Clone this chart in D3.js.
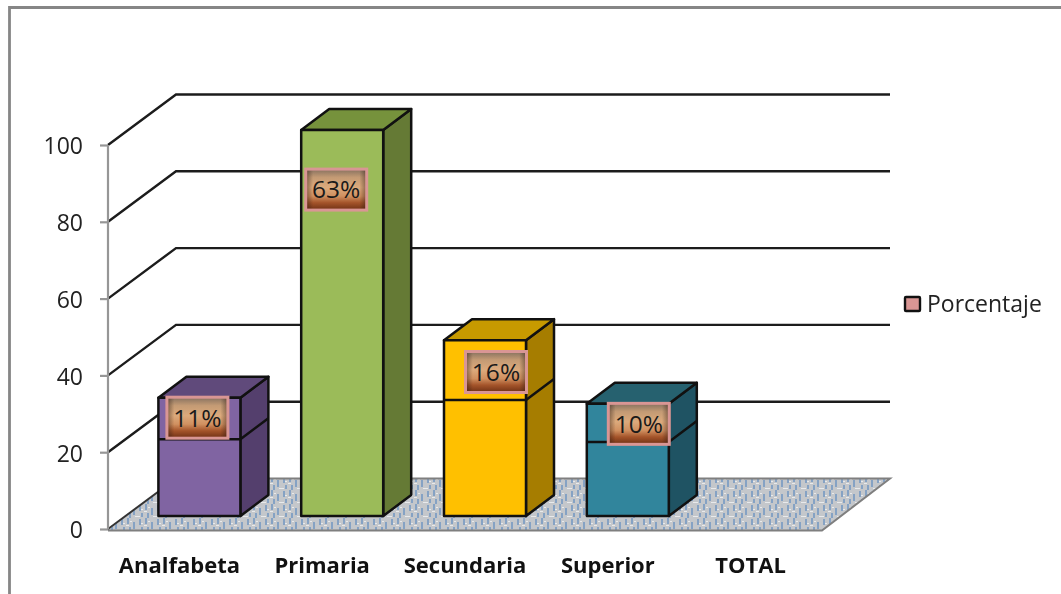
<!DOCTYPE html>
<html><head><meta charset="utf-8">
<script src="https://cdnjs.cloudflare.com/ajax/libs/d3/7.8.5/d3.min.js"></script>
<style>html,body{margin:0;padding:0;background:#fff;overflow:hidden}svg{display:block;filter:blur(.4px)}</style>
</head><body><svg id="c" width="1061" height="594"></svg>
<script>
const categories = ["Analfabeta","Primaria","Secundaria","Superior","TOTAL"];
const barValues = [30.8,100.5,45.8,29.2,null];
const seamValues = [20,null,30.2,19.3,null];
const percentLabels = ["11%","63%","16%","10%",null];
const labelValues = [25.6,85,37.5,24,null];
const yTicks = [0,20,40,60,80,100];
const legendLabel = "Porcentaje";
const frontColors = ["#8064a2","#9bbb59","#ffc000","#31859c"];
const topColors = ["#604a7b","#76923c","#c79a00","#26616f"];
const sideColors = ["#543f6d","#657a35","#a67d00","#1f5363"];
const labelShift = [-2,-6,11,11];

const W = {dx:68, dy:-50.5}, D = {dx:28, dy:-21};
const svg = d3.select("#c");
const y = d3.scaleLinear().domain([0,100]).range([529,145]);
const x = d3.scaleBand().domain(categories).range([108,822]);
const barBase = 13, barW = 82, barOff = (x.bandwidth()-barW)/2 + 20;
const yb = v => y(v) - barBase;
const defs = svg.append("defs");

// floor texture
const pat = defs.append("pattern").attr("id","floorTex").attr("patternUnits","userSpaceOnUse")
  .attr("width",18).attr("height",14);
pat.append("rect").attr("width",18).attr("height",14).attr("fill","#c4c7cb");
[[1,0,2,6],[7,4,2,7],[13,1,2,6],[3,9,2,5],[15,9,2,4]].forEach(r=>
  pat.append("rect").attr("x",r[0]).attr("y",r[1]).attr("width",r[2]).attr("height",r[3]).attr("fill","#7f9ec4").attr("opacity",.9));
[[9,12,5,1],[0,7,3,1],[4,3,2,1],[15,5,2,1]].forEach(r=>
  pat.append("rect").attr("x",r[0]).attr("y",r[1]).attr("width",r[2]).attr("height",r[3]).attr("fill","#e8eaec"));

// label fill
const lg = defs.append("linearGradient").attr("id","lblV").attr("x1",0).attr("x2",0).attr("y1",0).attr("y2",1);
[[0,"#85705f"],[.2,"#c39a74"],[.45,"#dcaa7c"],[.66,"#d09060"],[.82,"#a4542a"],[1,"#6e3014"]].forEach(s=>
  lg.append("stop").attr("offset",s[0]).attr("stop-color",s[1]));
const lh = defs.append("linearGradient").attr("id","lblH");
[[0,.5],[.12,0],[.88,0],[1,.5]].forEach(s=>
  lh.append("stop").attr("offset",s[0]).attr("stop-color","#2a1a12").attr("stop-opacity",s[1]));

// frame
svg.append("path").attr("d","M9.5,594V7.5H1061").attr("fill","none").attr("stroke","#868686").attr("stroke-width",2.8);

// walls' grid lines
svg.append("g").selectAll("path").data(yTicks.filter(t=>t>0)).join("path")
  .attr("d",t=>d3.line()([[x.range()[0],y(t)],[x.range()[0]+W.dx,y(t)+W.dy],[x.range()[1]+W.dx,y(t)+W.dy]]))
  .attr("fill","none").attr("stroke","#1c1c1c").attr("stroke-width",2.4);

// floor
const fx0 = x.range()[0], fx1 = x.range()[1];
svg.append("path").attr("d",d3.line()([[fx0,y(0)+1],[fx0+W.dx,y(0)+W.dy],[fx1+W.dx,y(0)+W.dy],[fx1,y(0)+1.5]])+"Z")
  .attr("fill","url(#floorTex)");
svg.append("path").attr("d",d3.line()([[fx0+W.dx,y(0)+W.dy],[fx1+W.dx,y(0)+W.dy],[fx1,y(0)+1.5],[fx0,y(0)+1.5]]))
  .attr("fill","none").attr("stroke","#7f7f7f").attr("stroke-width",2);
svg.append("path").attr("d",d3.line()([[fx0,y(0)],[fx0+W.dx,y(0)+W.dy]])).attr("stroke","#333").attr("stroke-width",2);

// y axis
const yAxis = d3.axisLeft(y).tickValues(yTicks).tickSize(8).tickPadding(17);
const ga = svg.append("g").attr("transform",`translate(${fx0},0)`).call(yAxis);
ga.selectAll("path,line").attr("stroke","#969696").attr("stroke-width",2.2);
ga.select(".domain").attr("d",`M0,${y(100)}V${y(0)}`);
ga.selectAll("line").attr("x2",-8);
ga.selectAll("text").attr("x",-25).attr("y",1.5).attr("font-family","'Open Sans'").attr("font-size",23).attr("fill","#222");

// x labels
const xAxis = d3.axisBottom(x).tickSize(0).tickPadding(0);
const gx = svg.append("g").attr("transform","translate(0,565)").call(xAxis);
gx.select(".domain").remove();
gx.selectAll("text").attr("font-family","'Open Sans'").attr("font-weight",700).attr("font-size",22).attr("fill","#111").attr("dy",".36em").attr("y",0);

// bars
const barData = categories.map((c,i)=>({c,i,v:barValues[i],s:seamValues[i]})).filter(d=>d.v!=null);
const bars = svg.append("g").selectAll("g").data(barData).join("g")
  .attr("stroke","#111").attr("stroke-width",2.5).attr("stroke-linejoin","round");
const bx = d => x(d.c)+barOff;
bars.append("path").attr("fill",d=>sideColors[d.i]).attr("d",d=>{const a=bx(d)+barW,t=yb(d.v),b=yb(0);
  return d3.line()([[a,t],[a+D.dx,t+D.dy],[a+D.dx,b+D.dy],[a,b]])+"Z";});
bars.append("path").attr("fill",d=>topColors[d.i]).attr("d",d=>{const a=bx(d),t=yb(d.v);
  return d3.line()([[a,t],[a+D.dx,t+D.dy],[a+barW+D.dx,t+D.dy],[a+barW,t]])+"Z";});
bars.append("rect").attr("fill",d=>frontColors[d.i]).attr("x",bx).attr("width",barW)
  .attr("y",d=>yb(d.v)).attr("height",d=>yb(0)-yb(d.v));
bars.filter(d=>d.s!=null).append("path").attr("fill","none").attr("d",d=>{const a=bx(d),t=yb(d.s);
  return d3.line()([[a,t],[a+barW,t],[a+barW+D.dx,t+D.dy]]);});

// data labels
const lblW = 61, lblH = 41;
const lblData = barData.map(d=>({...d,p:percentLabels[d.i],lv:labelValues[d.i],sh:labelShift[d.i]}));
const lbl = svg.append("g").selectAll("g").data(lblData).join("g")
  .attr("transform",d=>`translate(${bx(d)+barW/2+d.sh},${yb(d.lv)})`);
lbl.append("rect").attr("x",-lblW/2).attr("y",-lblH/2).attr("width",lblW).attr("height",lblH).attr("fill","url(#lblV)");
lbl.append("rect").attr("x",-lblW/2).attr("y",-lblH/2).attr("width",lblW).attr("height",lblH).attr("fill","url(#lblH)")
  .attr("stroke","#d99694").attr("stroke-width",3);
lbl.append("text").text(d=>d.p).attr("text-anchor","middle").attr("dy",".36em")
  .attr("font-family","'Open Sans'").attr("font-size",24.5).attr("fill","#1a1a1a");

// legend
const leg = svg.append("g").attr("transform","translate(905,297)");
leg.append("rect").attr("width",15).attr("height",14).attr("fill","#d99694").attr("stroke","#111").attr("stroke-width",2.4).attr("rx",1);
leg.append("text").text(legendLabel).attr("x",22).attr("y",7).attr("dy",".36em")
  .attr("font-family","'Open Sans'").attr("font-size",23).attr("fill","#222");
</script></body></html>
